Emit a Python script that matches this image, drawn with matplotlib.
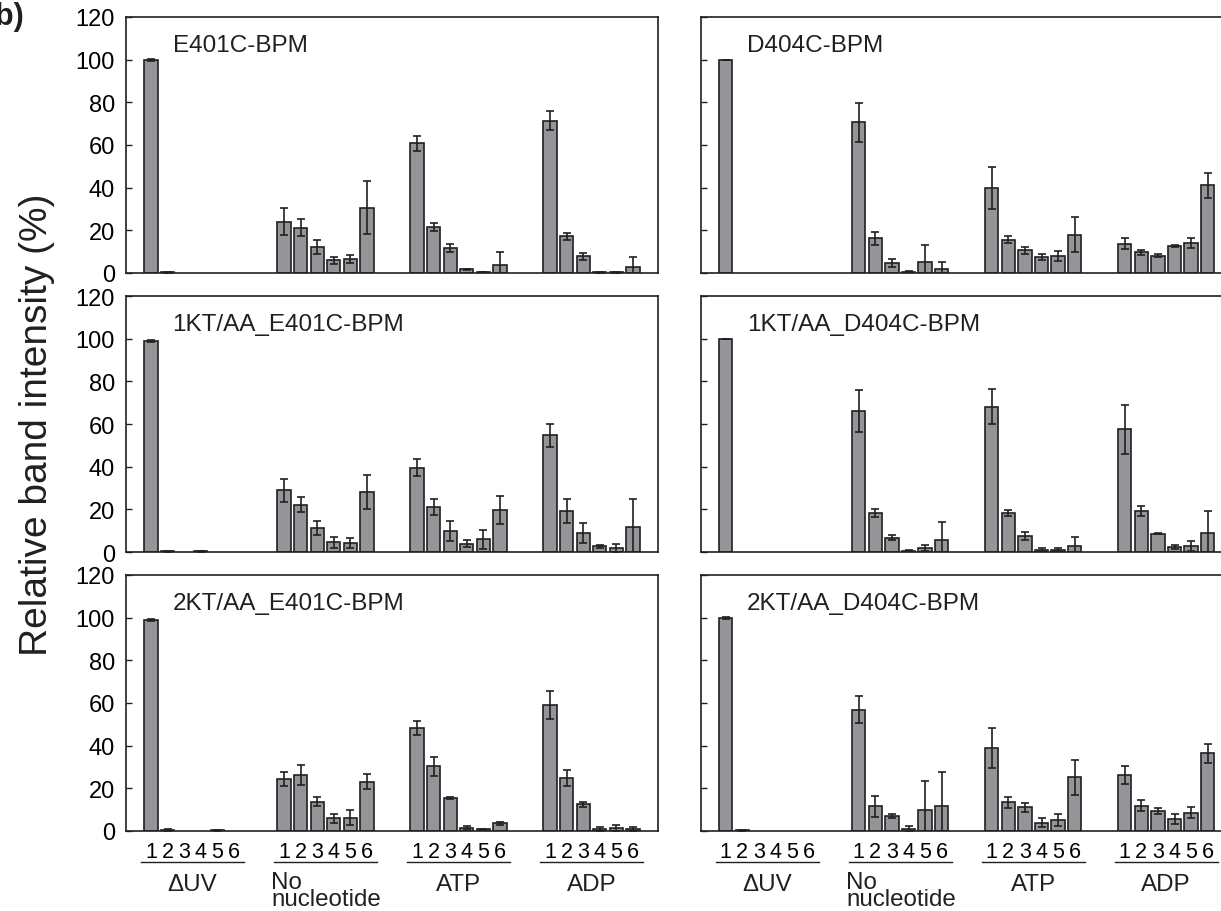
import matplotlib
matplotlib.use("Agg")
import matplotlib.pyplot as plt
import numpy as np

plt.rcParams['font.family'] = ['Liberation Sans', 'DejaVu Sans']

groups = ['\u0394UV', 'No\nnucleotide', 'ATP', 'ADP']
lanes = ['1', '2', '3', '4', '5', '6']
nan = np.nan

# values per panel: dUV(1-6), No nucleotide(1-6), ATP(1-6), ADP(1-6)
e401c = [100, 0.3, nan, nan, nan, nan,
         24.1, 21.3, 12.2, 5.9, 6.4, 30.6,
         60.8, 21.6, 11.9, 1.7, 0.5, 3.9,
         71.4, 17.3, 7.8, 0.3, 0.3, 2.8]
e401c_err = [0.5, 0.2, 0, 0, 0, 0,
             6.4, 3.9, 3.1, 1.6, 1.9, 12.5,
             3.6, 1.7, 1.9, 0.3, 0.2, 5.9,
             4.4, 1.6, 1.7, 0.1, 0.1, 4.7]

d404c = [100, nan, nan, nan, nan, nan,
         70.6, 16.2, 4.7, 0.6, 5.0, 2.0,
         39.8, 15.7, 10.6, 7.5, 7.9, 18.0,
         13.7, 9.8, 8.2, 12.6, 14.0, 41.1]
d404c_err = [0, 0, 0, 0, 0, 0,
             9.0, 3.1, 1.7, 0.3, 8.2, 3.1,
             9.8, 1.6, 1.5, 1.5, 2.4, 8.3,
             2.5, 1.2, 0.5, 0.3, 2.2, 5.9]

kt1_e401c = [98.9, 0.4, nan, 0.4, nan, nan,
             28.9, 22.2, 11.3, 4.5, 4.2, 28.1,
             39.5, 21.1, 9.7, 3.8, 5.9, 19.7,
             54.8, 19.1, 8.9, 2.7, 1.9, 11.6]
kt1_e401c_err = [0.5, 0.2, 0, 0.2, 0, 0,
                 5.5, 3.4, 3.1, 2.4, 2.4, 7.8,
                 3.9, 3.6, 4.7, 1.6, 4.3, 6.6,
                 5.4, 5.7, 4.5, 0.7, 1.7, 13.2]

kt1_d404c = [100, nan, nan, nan, nan, nan,
             66.1, 18.3, 6.6, 0.6, 1.9, 5.5,
             68.1, 18.3, 7.3, 1.1, 1.1, 2.7,
             57.5, 19.2, 8.6, 2.3, 2.7, 8.9]
kt1_d404c_err = [0, 0, 0, 0, 0, 0,
                 10.0, 1.9, 1.2, 0.3, 1.5, 8.4,
                 8.3, 1.5, 1.9, 0.8, 0.8, 4.3,
                 11.4, 2.2, 0.3, 1.1, 2.3, 10.2]

kt2_e401c = [98.9, 0.6, nan, nan, 0.4, nan,
             24.4, 26.3, 13.8, 5.9, 6.3, 23.1,
             48.3, 30.3, 15.5, 1.6, 0.8, 3.6,
             58.9, 24.8, 12.5, 0.9, 1.4, 0.8]
kt2_e401c_err = [0.3, 0.5, 0, 0, 0.3, 0,
                 3.1, 4.7, 2.3, 2.2, 3.4, 3.4,
                 3.1, 4.5, 0.6, 0.7, 0.3, 0.8,
                 6.6, 3.9, 1.3, 0.9, 1.3, 1.1]

kt2_d404c = [99.7, 0.3, nan, nan, nan, nan,
             56.9, 11.6, 6.9, 0.9, 9.8, 11.9,
             38.9, 13.4, 11.1, 3.9, 5.2, 25.2,
             26.3, 11.9, 9.2, 5.5, 8.6, 36.4]
kt2_d404c_err = [0.5, 0.2, 0, 0, 0, 0,
                 6.4, 5.0, 0.9, 1.3, 13.5, 15.6,
                 9.4, 2.7, 2.2, 2.0, 2.9, 8.2,
                 4.4, 2.6, 1.4, 2.3, 2.5, 4.5]

panels = [
    ('E401C-BPM', e401c, e401c_err),
    ('D404C-BPM', d404c, d404c_err),
    ('1KT/AA_E401C-BPM', kt1_e401c, kt1_e401c_err),
    ('1KT/AA_D404C-BPM', kt1_d404c, kt1_d404c_err),
    ('2KT/AA_E401C-BPM', kt2_e401c, kt2_e401c_err),
    ('2KT/AA_D404C-BPM', kt2_d404c, kt2_d404c_err),
]

W, H = 1221, 912
fig = plt.figure(figsize=(W / 100, H / 100), dpi=100)

dark = '#231f20'
face = '#939598'
x = np.array([g * 8 + i for g in range(4) for i in range(6)], dtype=float)

lefts = [126, 700.7]
tops = [18, 297, 576]
pw, ph = 532, 256

for k, (name, vals, errs) in enumerate(panels):
    row, col = divmod(k, 2)
    ax = fig.add_axes([lefts[col] / W, 1 - (tops[row] + ph) / H, pw / W, ph / H])
    vals = np.array(vals, dtype=float)
    errs = np.array(errs, dtype=float)
    ok = ~np.isnan(vals)
    ax.bar(x[ok], vals[ok], width=0.8, color=face, edgecolor=dark, linewidth=1.2, zorder=2)
    ax.errorbar(x[ok], vals[ok], yerr=errs[ok], fmt='none', ecolor=dark,
                elinewidth=1.2, capsize=3.2, capthick=1.2, zorder=3)
    ax.set_xlim(-1.5, 30.5)
    ax.set_ylim(0, 120)
    ax.set_yticks(range(0, 121, 20))
    ax.tick_params(axis='y', direction='in', length=4, width=1, color=dark,
                   labelsize=17, pad=8)
    if col == 1:
        ax.tick_params(axis='y', labelleft=False)
    for s in ax.spines.values():
        s.set_linewidth(1.2)
        s.set_color(dark)
    ax.text(1.3, 104, name, fontsize=17.5, va='baseline', ha='left', color=dark)

    if row == 2:
        ax.set_xticks(x)
        ax.set_xticklabels(lanes * 4)
        ax.tick_params(axis='x', length=0, labelsize=15.5, pad=7)
        tr = ax.get_xaxis_transform()
        for g, lab in enumerate(groups):
            x0 = g * 8
            ax.plot([x0 - 0.6, x0 + 5.6], [-0.121, -0.121], color=dark, lw=1,
                    transform=tr, clip_on=False)
            if '\n' in lab:
                ax.text(x0 - 0.75, -0.157, lab, transform=tr, ha='left', va='top',
                        fontsize=17.4, linespacing=0.72, color=dark)
            else:
                ax.text(x0 + 2.5, -0.163, lab, transform=tr, ha='center', va='top',
                        fontsize=17.4, color=dark)
    else:
        ax.set_xticks([])

fig.text(37 / W, 1 - 425 / H, 'Relative band intensity (%)', rotation=90,
         ha='center', va='center', fontsize=28, color=dark)
fig.text(24 / W, 1 - 2 / H, 'b)', ha='right', va='top', fontsize=22,
         fontweight='bold', color=dark)

fig.savefig('out.png', dpi=100)
